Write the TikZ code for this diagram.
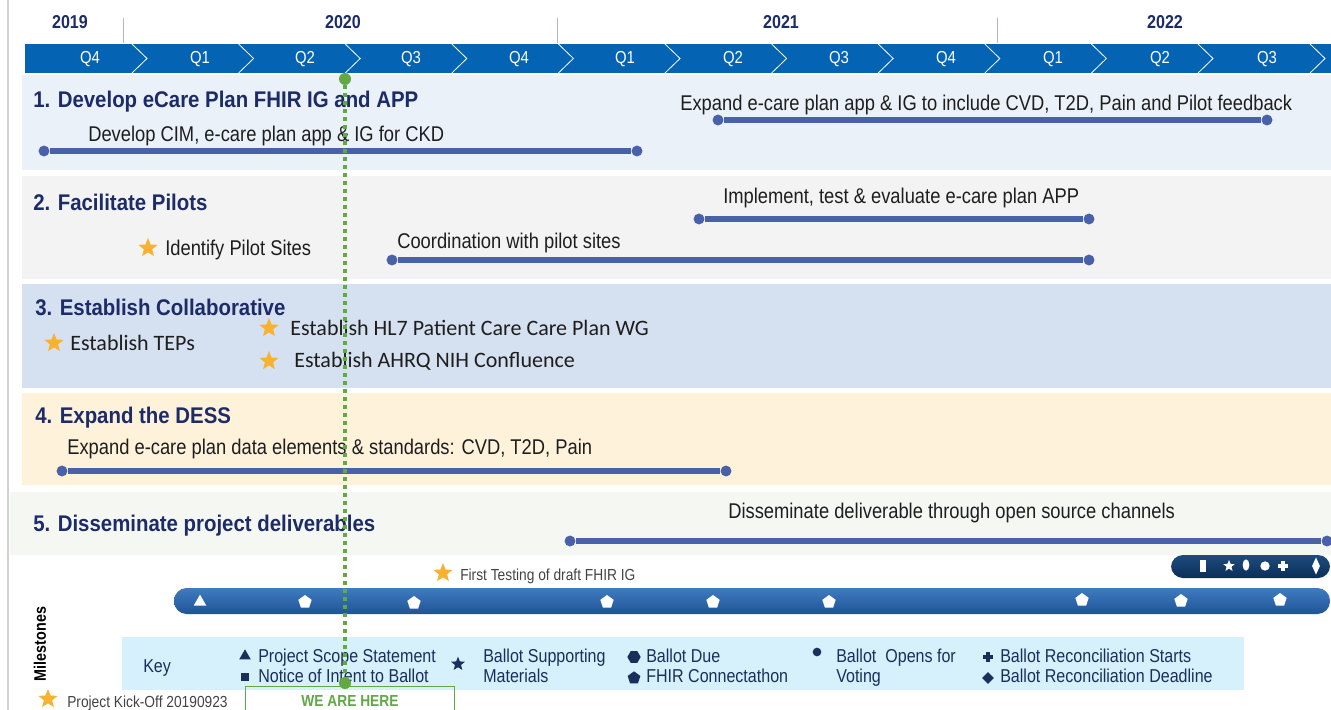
\documentclass[tikz,border=0pt]{standalone}
\usepackage{fontspec}
\setmainfont{Liberation Sans}
\newfontfamily\narrowf[FakeStretch=0.86]{Liberation Sans}
\newfontfamily\headf[FakeStretch=0.9]{Liberation Sans}
\newfontfamily\calibf{Carlito}
\usepackage{tikz}
\usetikzlibrary{shapes.geometric,positioning}
\definecolor{navy}{HTML}{1D2B68}
\definecolor{qbar}{HTML}{0563B4}
\definecolor{barc}{HTML}{4861A8}
\definecolor{starc}{HTML}{F8B22F}
\definecolor{bandA}{HTML}{EAF1F9}
\definecolor{bandB}{HTML}{F3F3F3}
\definecolor{bandC}{HTML}{D5E0F0}
\definecolor{bandD}{HTML}{FEF2DA}
\definecolor{bandE}{HTML}{F4F7F2}
\definecolor{keybg}{HTML}{D6F1FB}
\definecolor{mstop}{HTML}{3F7BC0}
\definecolor{msbot}{HTML}{1F5496}
\definecolor{darktop}{HTML}{1D4C7E}
\definecolor{darkbot}{HTML}{0B2E57}
\definecolor{hereg}{HTML}{62A845}
\definecolor{keytext}{HTML}{1A2F5C}
\definecolor{txt}{HTML}{1E1E1E}
\definecolor{grey}{HTML}{444444}
\tikzset{
  head/.style={anchor=base west, inner sep=0pt, text=navy, font=\headf\bfseries\fontsize{17}{20}\selectfont},
  task/.style={anchor=base west, inner sep=0pt, text=txt, font=\narrowf\fontsize{16}{19}\selectfont},
  est/.style={anchor=base west, inner sep=0pt, text=txt, font=\calibf\fontsize{16.5}{19}\selectfont},
  note/.style={anchor=base west, inner sep=0pt, text=grey, font=\narrowf\fontsize{12}{14}\selectfont},
  keyt/.style={anchor=base west, inner sep=0pt, text=keytext, font=\narrowf\fontsize{14}{16}\selectfont},
  qlab/.style={anchor=base, inner sep=0pt, text=white, font=\narrowf\fontsize{13}{15}\selectfont},
  ylab/.style={anchor=base, inner sep=0pt, text=navy, font=\narrowf\bfseries\fontsize{14}{16}\selectfont},
  chev/.style={draw=white, line width=0.6pt},
  bar/.style={draw=barc, line width=3.8pt},
  dot/.style={circle, fill=barc, inner sep=0pt, minimum size=8.2pt},
  pstar/.style={star, star points=5, star point ratio=2.3, fill=starc, inner sep=0pt, minimum size=15pt},
  msi/.style={fill=white, inner sep=0pt},
  keyi/.style={fill=keytext, inner sep=0pt},
  here/.style={draw=hereg, line width=3pt, dash pattern=on 3pt off 3pt},
  heredot/.style={circle, fill=hereg, inner sep=0pt, minimum size=9pt},
}
\begin{document}
\begin{tikzpicture}[x=0.75pt, y=-0.75pt]
  \useasboundingbox (0,0) rectangle (1331,710);
  \fill[white] (0,0) rectangle (1331,710);
  \draw[draw=black!18, line width=2pt] (8,0) -- (8,710);

  % years and quarters
  \draw[draw=black!30!blue!30, line width=0.5pt] (123,18) -- (123,43) (557,18) -- (557,43) (997,18) -- (997,43);
  \node[ylab] (y19) at (70,29) {2019};
  \node[ylab] (y20) at (343,29) {2020};
  \node[ylab] (y21) at (781,29) {2021};
  \node[ylab] (y22) at (1165,29) {2022};
  \fill[qbar] (24,44) rectangle (1331,73);
  \draw[draw=white, line width=0.8pt] (24,44) -- (24,73);
  \draw[chev] (132,44) -- ++(15,14.5) -- ++(-15,14.5) (238.6,44) -- ++(15,14.5) -- ++(-15,14.5)
    (345.2,44) -- ++(15,14.5) -- ++(-15,14.5) (451.8,44) -- ++(15,14.5) -- ++(-15,14.5)
    (558.4,44) -- ++(15,14.5) -- ++(-15,14.5) (665,44) -- ++(15,14.5) -- ++(-15,14.5)
    (771.6,44) -- ++(15,14.5) -- ++(-15,14.5) (878.2,44) -- ++(15,14.5) -- ++(-15,14.5)
    (984.8,44) -- ++(15,14.5) -- ++(-15,14.5) (1091.4,44) -- ++(15,14.5) -- ++(-15,14.5)
    (1198,44) -- ++(15,14.5) -- ++(-15,14.5) (1310,44) -- ++(15,14.5) -- ++(-15,14.5);
  \node[qlab] (q1) at (90,64) {Q4};
  \node[qlab] (q2) at (200,64) {Q1};
  \node[qlab] (q3) at (305,64) {Q2};
  \node[qlab] (q4) at (411,64) {Q3};
  \node[qlab] (q5) at (519,64) {Q4};
  \node[qlab] (q6) at (625,64) {Q1};
  \node[qlab] (q7) at (733,64) {Q2};
  \node[qlab] (q8) at (839,64) {Q3};
  \node[qlab] (q9) at (946,64) {Q4};
  \node[qlab] (q10) at (1053,64) {Q1};
  \node[qlab] (q11) at (1160,64) {Q2};
  \node[qlab] (q12) at (1267,64) {Q3};

  % bands
  \fill[bandA] (22,75) rectangle (1331,170);
  \fill[bandB] (22,176) rectangle (1331,279);
  \fill[bandC] (22,284) rectangle (1331,388);
  \fill[bandD] (22,393) rectangle (1331,485);
  \fill[bandE] (10,492) rectangle (1331,555);

  % 1
  \node[head] (h1) at (33,108) {1. Develop eCare Plan FHIR IG and APP};
  \node[task] (t1) at (88,142) {Develop CIM, e-care plan app \& IG for CKD};
  \node[dot] (t1a) at (44,151) {};
  \node[dot] (t1b) at (637,151) {};
  \draw[bar] (t1a) -- (t1b);
  \node[task] (t2) at (680,110) {Expand e-care plan app \& IG to include CVD, T2D, Pain and Pilot feedback};
  \node[dot] (t2a) at (718,120) {};
  \node[dot] (t2b) at (1267,120) {};
  \draw[bar] (t2a) -- (t2b);

  % 2
  \node[head] (h2) at (33,210) {2. Facilitate Pilots};
  \node[task] (t3) at (723,203) {Implement, test \& evaluate e-care plan APP};
  \node[dot] (t3a) at (699,219) {};
  \node[dot] (t3b) at (1089,219) {};
  \draw[bar] (t3a) -- (t3b);
  \node[pstar] (s1) at (148,248) {};
  \node[task] (t4) at (165,255) {Identify Pilot Sites};
  \node[task] (t5) at (397,248) {Coordination with pilot sites};
  \node[dot] (t5a) at (392,260) {};
  \node[dot] (t5b) at (1089,260) {};
  \draw[bar] (t5a) -- (t5b);

  % 3
  \node[head] (h3) at (35,315) {3. Establish Collaborative};
  \node[pstar] (s2) at (54,343) {};
  \node[est] (e1) at (70,350) {Establish TEPs};
  \node[pstar] (s3) at (269,328) {};
  \node[est] (e2) at (290,335) {Establish HL7 Patient Care Care Plan WG};
  \node[pstar] (s4) at (269,361) {};
  \node[est] (e3) at (294,367) {Establish AHRQ NIH Confluence};

  % 4
  \node[head] (h4) at (35,423) {4. Expand the DESS};
  \node[task] (t6) at (67,454) {Expand e-care plan data elements \& standards: CVD, T2D, Pain};
  \node[dot] (t6a) at (62,471) {};
  \node[dot] (t6b) at (726,471) {};
  \draw[bar] (t6a) -- (t6b);

  % 5
  \node[head] (h5) at (33,531) {5. Disseminate project deliverables};
  \node[task] (t7) at (728,518) {Disseminate deliverable through open source channels};
  \node[dot] (t7a) at (570,541) {};
  \node[dot] (t7b) at (1327,541) {};
  \draw[bar] (t7a) -- (t7b);

  % milestones
  \node[pstar] (s5) at (443,573) {};
  \node[note] (n1) at (460,580) {First Testing of draft FHIR IG};
  \shade[top color=darktop, bottom color=darkbot, rounded corners=9pt] (1171,555) rectangle (1330,578);
  \node[msi, minimum width=4.5pt, minimum height=9pt] (d1) at (1203,566) {};
  \node[msi, star, star points=5, star point ratio=2.3, minimum size=9pt] (d2) at (1229,566) {};
  \node[msi, ellipse, minimum width=5pt, minimum height=8.5pt] (d3) at (1246,565) {};
  \node[msi, circle, minimum size=7pt] (d4) at (1265,566) {};
  \node[msi, minimum width=7pt, minimum height=3pt] (d5) at (1283,566) {};
  \node[msi, minimum width=3pt, minimum height=8pt] (d6) at (1283,566) {};
  \node[msi, diamond, minimum width=6pt, minimum height=13pt] (d7) at (1316,566) {};
  \shade[top color=mstop, bottom color=msbot, rounded corners=9.5pt] (174,588) rectangle (1330,614);
  \node[msi, regular polygon, regular polygon sides=3, minimum size=11pt] (m1) at (200,602) {};
  \node[msi, regular polygon, regular polygon sides=5, minimum size=10.5pt] (m2) at (305,602) {};
  \node[msi, regular polygon, regular polygon sides=5, minimum size=10.5pt] (m3) at (414,603) {};
  \node[msi, regular polygon, regular polygon sides=5, minimum size=10.5pt] (m4) at (607,602) {};
  \node[msi, regular polygon, regular polygon sides=5, minimum size=10.5pt] (m5) at (713,602) {};
  \node[msi, regular polygon, regular polygon sides=5, minimum size=10.5pt] (m6) at (829,602) {};
  \node[msi, regular polygon, regular polygon sides=5, minimum size=10.5pt] (m7) at (1082,600) {};
  \node[msi, regular polygon, regular polygon sides=5, minimum size=10.5pt] (m8) at (1181,601) {};
  \node[msi, regular polygon, regular polygon sides=5, minimum size=10.5pt] (m9) at (1280,600) {};
  \node[rotate=90, inner sep=0pt, font=\narrowf\bfseries\fontsize{12.5}{14}\selectfont] (mlab) at (40,644) {Milestones};

  % key
  \fill[keybg] (122,637) rectangle (1244,690);
  \node[keyt] (key) at (143,672) {Key};
  \node[keyi, regular polygon, regular polygon sides=3, minimum size=10pt] (k1) at (245,656) {};
  \node[keyt] (k1t) at (258,662) {Project Scope Statement};
  \node[keyi, minimum size=6pt] (k2) at (245,677) {};
  \node[keyt] (k2t) at (258,682) {Notice of Intent to Ballot};
  \node[keyi, star, star points=5, star point ratio=2.3, minimum size=11pt] (k3) at (458,664) {};
  \node[keyt] (k3t) at (483,662) {Ballot Supporting};
  \node[keyt] (k3u) at (483,682) {Materials};
  \node[keyi, regular polygon, regular polygon sides=6, minimum size=10pt] (k4) at (634,657) {};
  \node[keyt] (k4t) at (646,662) {Ballot Due};
  \node[keyi, regular polygon, regular polygon sides=5, minimum size=10pt] (k5) at (634,678) {};
  \node[keyt] (k5t) at (646,682) {FHIR Connectathon};
  \node[keyi, circle, minimum size=6.5pt] (k6) at (817,652) {};
  \node[keyt] (k6t) at (836,662) {Ballot\ \ Opens for};
  \node[keyt] (k6u) at (836,682) {Voting};
  \node[keyi, minimum width=8pt, minimum height=3pt] (k7) at (988,657) {};
  \node[keyi, minimum width=3pt, minimum height=8pt] (k7v) at (988,657) {};
  \node[keyt] (k7t) at (1000,662) {Ballot Reconciliation Starts};
  \node[keyi, diamond, minimum size=9pt] (k8) at (988,678) {};
  \node[keyt] (k8t) at (1000,682) {Ballot Reconciliation Deadline};

  \node[pstar] (s6) at (48,699) {};
  \node[note] (n2) at (67,707) {Project Kick-Off 20190923};

  % we are here
  \node[draw=hereg, line width=0.8pt, minimum width=157pt, minimum height=22pt, inner sep=0pt,
        text=hereg, font=\narrowf\bfseries\fontsize{12}{14}\selectfont] (wah) at (350,701) {WE ARE HERE};
  \node[heredot] (hereTop) at (345,79) {};
  \node[heredot] (hereBot) at (345,683) {};
  \draw[here] (hereTop) -- (hereBot);
\end{tikzpicture}
\end{document}
